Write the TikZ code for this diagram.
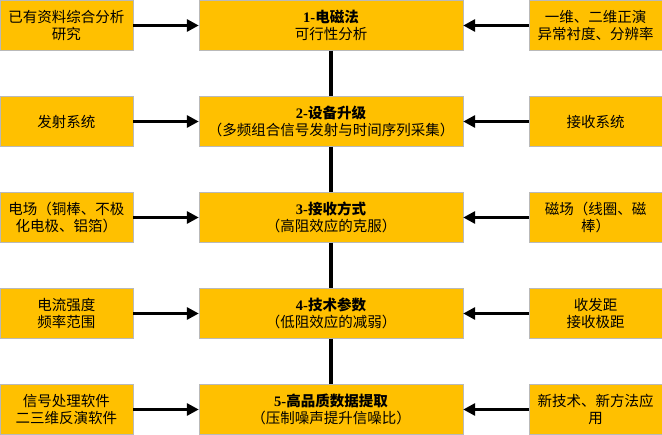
\documentclass[tikz,border=0pt]{standalone}
\usepackage{fontspec}
\setmainfont{Noto Sans CJK SC}
\newfontfamily\latn{Liberation Serif}
\usepackage{tikz}
\usetikzlibrary{arrows.meta}
\usepackage{xcolor}
\definecolor{boxyellow}{HTML}{FFC000}
\newcommand\stepno[1]{{\latn\bfseries #1-}}

\begin{document}
\begin{tikzpicture}[x=1pt, y=-1pt,
    box/.style={fill=boxyellow, draw=gray!55, line width=0.4pt, inner sep=0pt,
      minimum height=50pt, align=center, font=\fontsize{14.5}{16.5}\selectfont},
    sidebox/.style={box, minimum width=133pt},
    mainbox/.style={box, minimum width=264pt},
    flow/.style={black, line width=3.2pt, -{Triangle[length=12pt,width=12pt]}},
    spine/.style={black, line width=3.2pt}]
    \useasboundingbox (0,0) rectangle (662,435);
    % centre column
    \node[mainbox] (m1) at (331, 25.5) {\stepno{1}\textbf{电磁法}\\可行性分析};
    \node[mainbox] (m2) at (331,121.5) {\stepno{2}\textbf{设备升级}\\（多频组合信号发射与时间序列采集）};
    \node[mainbox] (m3) at (331,217.5) {\stepno{3}\textbf{接收方式}\\（高阻效应的克服）};
    \node[mainbox] (m4) at (331,313.5) {\stepno{4}\textbf{技术参数}\\（低阻效应的减弱）};
    \node[mainbox] (m5) at (331,409.5) {\stepno{5}\textbf{高品质数据提取}\\（压制噪声提升信噪比）};
    % left column
    \node[sidebox] (l1) at (66.5, 25.5) {已有资料综合分析\\研究};
    \node[sidebox] (l2) at (66.5,121.5) {发射系统};
    \node[sidebox] (l3) at (66.5,217.5) {电场（铜棒、不极\\化电极、铝箔）};
    \node[sidebox] (l4) at (66.5,313.5) {电流强度\\频率范围};
    \node[sidebox] (l5) at (66.5,409.5) {信号处理软件\\二三维反演软件};
    % right column
    \node[sidebox] (r1) at (595.5, 25.5) {一维、二维正演\\异常衬度、分辨率};
    \node[sidebox] (r2) at (595.5,121.5) {接收系统};
    \node[sidebox] (r3) at (595.5,217.5) {磁场（线圈、磁\\棒）};
    \node[sidebox] (r4) at (595.5,313.5) {收发距\\接收极距};
    \node[sidebox] (r5) at (595.5,409.5) {新技术、新方法应\\用};
    % connectors
    \draw[spine] (m1) -- (m2);
    \draw[spine] (m2) -- (m3);
    \draw[spine] (m3) -- (m4);
    \draw[spine] (m4) -- (m5);
    \draw[flow] (l1) -- (m1);
    \draw[flow] (l2) -- (m2);
    \draw[flow] (l3) -- (m3);
    \draw[flow] (l4) -- (m4);
    \draw[flow] (l5) -- (m5);
    \draw[flow] (r1) -- (m1);
    \draw[flow] (r2) -- (m2);
    \draw[flow] (r3) -- (m3);
    \draw[flow] (r4) -- (m4);
    \draw[flow] (r5) -- (m5);
\end{tikzpicture}
\end{document}
